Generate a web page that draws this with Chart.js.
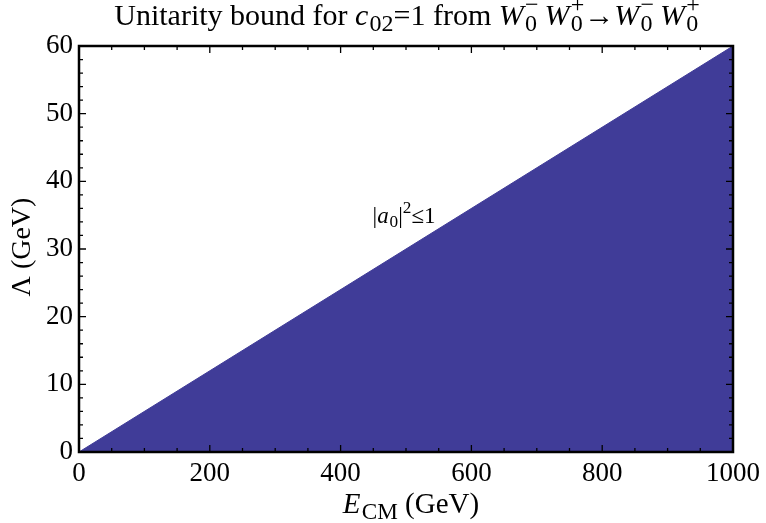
<!DOCTYPE html>
<html lang="en">
<head>
<meta charset="UTF-8">
<title>Unitarity bound</title>
<script src="https://cdn.jsdelivr.net/npm/chart.js"></script>
<style>
  html, body { margin: 0; padding: 0; background: #fff; }
</style>
</head>
<body>
<canvas id="boundChart" width="766" height="523"></canvas>
<script>
// bound line: E_CM (GeV) against Lambda (GeV)
const energies = [0, 1000];
const lambdaBound = [0, 60];
const xTickValues = [0, 200, 400, 600, 800, 1000];
const yTickValues = [0, 10, 20, 30, 40, 50, 60];
const fillColor = 'rgb(64, 60, 152)';
const serif = '"Liberation Serif", "DejaVu Serif", serif';

// text pieces: t = main text, it = italic, sub / sup = small scripts after it
const titleParts = [
    { t: 'Unitarity bound for ' },
    { t: 'c', it: true, sub: '02' },
    { t: '=1 from ' },
    { t: 'W', it: true, sub: '0', sup: '\u2212' },
    { t: '\u2009' },
    { t: 'W', it: true, sub: '0', sup: '+' },
    { t: '\u2192' },
    { t: 'W', it: true, sub: '0', sup: '\u2212' },
    { t: '\u2009' },
    { t: 'W', it: true, sub: '0', sup: '+' }
];
const xTitleParts = [{ t: 'E', it: true, sub: 'CM' }, { t: ' (GeV)' }];
const yTitleParts = [{ t: '\u039B (GeV)' }];
const regionParts = [{ t: '|' }, { t: 'a', it: true, sub: '0' }, { t: '|', sup: '2' }, { t: '\u22641' }];

function font(size, it) {
    return (it ? 'italic ' : '') + size + 'px ' + serif;
}

function partWidth(ctx, p, size, ss) {
    ctx.font = font(size, p.it);
    let w = ctx.measureText(p.t).width + (p.it ? size * 0.04 : 0);
    ctx.font = font(size * ss, false);
    const ws = p.sub ? ctx.measureText(p.sub).width : 0;
    const wp = p.sup ? ctx.measureText(p.sup).width : 0;
    return w + Math.max(ws, wp);
}

// draws mixed text centred on (cx, cy); ss = script size factor
function drawRich(ctx, parts, cx, cy, size, ss = 0.75) {
    let total = 0;
    parts.forEach(p => total += partWidth(ctx, p, size, ss));
    let x = cx - total / 2;
    ctx.save();
    ctx.fillStyle = '#000';
    ctx.textBaseline = 'middle';
    ctx.textAlign = 'left';
    parts.forEach(p => {
        ctx.font = font(size, p.it);
        ctx.fillText(p.t, x, cy);
        x += ctx.measureText(p.t).width + (p.it ? size * 0.04 : 0);
        ctx.font = font(size * ss, false);
        let ws = 0;
        if (p.sub) {
            ctx.fillText(p.sub, x, cy + size * 0.27);
            ws = ctx.measureText(p.sub).width;
        }
        if (p.sup) {
            ctx.fillText(p.sup, x, cy - size * 0.36);
            ws = Math.max(ws, ctx.measureText(p.sup).width);
        }
        x += ws;
    });
    ctx.restore();
}

const framePlugin = {
    id: 'frame',
    afterDatasetsDraw(chart) {
        const ctx = chart.ctx;
        const a = chart.chartArea;
        const xs = chart.scales.x, ys = chart.scales.y;
        ctx.save();
        ctx.strokeStyle = '#000';
        ctx.lineWidth = 1.3;
        ctx.beginPath();
        // ticks on all four sides, pointing inward
        for (let v = 0; v <= 1000; v += 50) {
            const px = xs.getPixelForValue(v);
            const len = v % 200 === 0 ? 7 : 4;
            ctx.moveTo(px, a.bottom); ctx.lineTo(px, a.bottom - len);
            ctx.moveTo(px, a.top); ctx.lineTo(px, a.top + len);
        }
        for (let v = 0; v <= 60; v += 2) {
            const py = ys.getPixelForValue(v);
            const len = v % 10 === 0 ? 7 : 4;
            ctx.moveTo(a.left, py); ctx.lineTo(a.left + len, py);
            ctx.moveTo(a.right, py); ctx.lineTo(a.right - len, py);
        }
        ctx.stroke();
        ctx.lineWidth = 2.5;
        ctx.strokeRect(a.left, a.top, a.right - a.left, a.bottom - a.top);
        ctx.restore();

        drawRich(ctx, regionParts, xs.getPixelForValue(497), ys.getPixelForValue(34.8), 23);
        drawRich(ctx, titleParts, 407, 17, 30, 0.8);
        drawRich(ctx, xTitleParts, 411, 505, 29, 0.8);

        ctx.save();
        ctx.translate(23, 247);
        ctx.rotate(-Math.PI / 2);
        drawRich(ctx, yTitleParts, 0, 0, 28);
        ctx.restore();
    }
};

new Chart(document.getElementById('boundChart'), {
    type: 'line',
    data: {
        datasets: [{
            data: energies.map((e, i) => ({ x: e, y: lambdaBound[i] })),
            fill: 'origin',
            backgroundColor: fillColor,
            borderColor: fillColor,
            borderWidth: 1,
            pointRadius: 0,
            tension: 0
        }]
    },
    options: {
        responsive: false,
        animation: false,
        devicePixelRatio: 1,
        layout: { padding: { top: 46, right: 30, left: 0, bottom: 0 } },
        plugins: { legend: { display: false }, tooltip: { enabled: false } },
        scales: {
            x: {
                type: 'linear', min: 0, max: 1000,
                afterFit: s => { s.height = 71; },
                afterBuildTicks: s => { s.ticks = xTickValues.map(v => ({ value: v })); },
                grid: { display: false, drawTicks: false },
                border: { display: false },
                ticks: {
                    color: '#000', padding: 6, maxRotation: 0, autoSkip: false,
                    font: { family: serif, size: 27 },
                    callback: v => String(v)
                }
            },
            y: {
                type: 'linear', min: 0, max: 60,
                afterFit: s => { s.width = 79; },
                afterBuildTicks: s => { s.ticks = yTickValues.map(v => ({ value: v })); },
                grid: { display: false, drawTicks: false },
                border: { display: false },
                ticks: {
                    color: '#000', padding: 6, autoSkip: false,
                    font: { family: serif, size: 27 },
                    callback: v => String(v)
                }
            }
        }
    },
    plugins: [framePlugin]
});
</script>
</body>
</html>
